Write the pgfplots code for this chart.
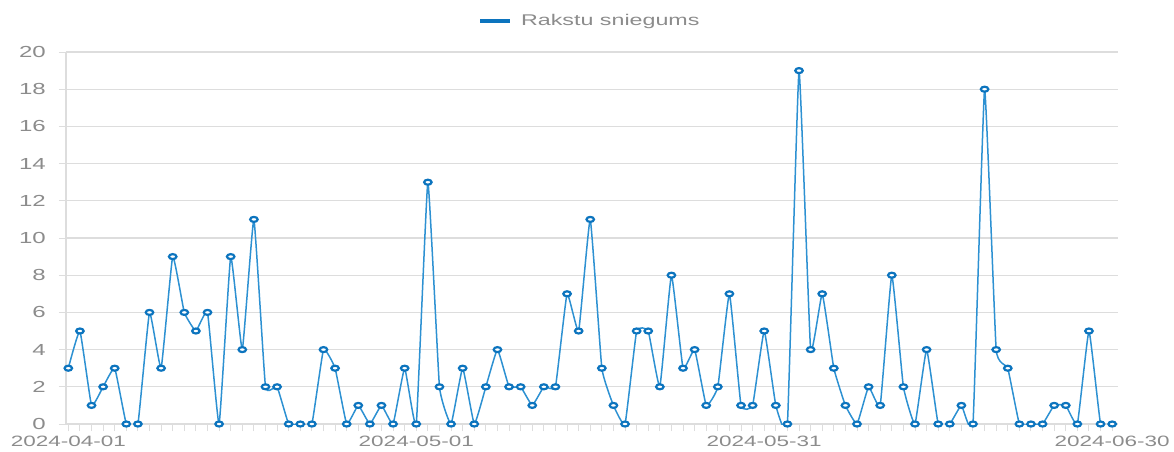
\documentclass[border=0pt]{standalone}
\usepackage{fontspec}
\setmainfont{Liberation Sans}[FakeStretch=1.5]
\usepackage{pgfplots}
\pgfplotsset{compat=1.18}
\definecolor{lineblue}{RGB}{45,145,210}
\definecolor{markblue}{RGB}{12,116,190}
\definecolor{txtgray}{RGB}{140,140,140}
\definecolor{gridgray}{RGB}{221,221,221}
\begin{document}
\begin{tikzpicture}
\path[use as bounding box] (-66pt,-27pt) rectangle (1108pt,424pt);
\begin{axis}[
  at={(0pt,0pt)}, anchor=south west,
  scale only axis, width=1052pt, height=372pt,
  xmin=-0.2, xmax=90.5, ymin=0, ymax=20,
  axis x line=bottom, axis y line=left,
  axis line style={gridgray, line width=1.2pt, -},
  xtick={0,30,60,90},
  xticklabels={2024-04-01,2024-05-01,2024-05-31,2024-06-30},
  minor xtick={1,...,89},
  ytick={0,2,...,20},
  tick align=outside,
  major tick length=7pt, minor tick length=7pt,
  tick style={gridgray, line width=1pt},
  ymajorgrids,
  grid style={gridgray, line width=1.2pt},
  /pgf/number format/assume math mode=true,
  yticklabel style={font=\fontsize{16}{16}\selectfont, text=txtgray, inner sep=0pt, xshift=-13pt},
  xticklabel style={font=\fontsize{15}{15}\selectfont, text=txtgray, inner sep=0pt, yshift=-5pt},
  clip mode=individual,
  legend style={draw=none, fill=none, inner sep=0pt, at={(axis description cs:0.3916,1)}, anchor=west, yshift=31pt, font=\fontsize{15.5}{15.5}\selectfont, text=txtgray, nodes={inner sep=0pt}},
  legend image code/.code={\draw[markblue, line width=4pt] (0pt,0pt) -- (30pt,0pt);},
]
\addplot[lineblue, line width=1.5pt, smooth, tension=0.2, mark=*, mark size=2.5pt,
  mark options={draw=markblue, fill=white, line width=2.2pt, xscale=1.5}] coordinates {
(0,3)(1,5)(2,1)(3,2)(4,3)(5,0)(6,0)(7,6)(8,3)(9,9)
(10,6)(11,5)(12,6)(13,0)(14,9)(15,4)(16,11)(17,2)(18,2)(19,0)
(20,0)(21,0)(22,4)(23,3)(24,0)(25,1)(26,0)(27,1)(28,0)(29,3)
(30,0)(31,13)(32,2)(33,0)(34,3)(35,0)(36,2)(37,4)(38,2)(39,2)
(40,1)(41,2)(42,2)(43,7)(44,5)(45,11)(46,3)(47,1)(48,0)(49,5)
(50,5)(51,2)(52,8)(53,3)(54,4)(55,1)(56,2)(57,7)(58,1)(59,1)
(60,5)(61,1)(62,0)(63,19)(64,4)(65,7)(66,3)(67,1)(68,0)(69,2)
(70,1)(71,8)(72,2)(73,0)(74,4)(75,0)(76,0)(77,1)(78,0)(79,18)
(80,4)(81,3)(82,0)(83,0)(84,0)(85,1)(86,1)(87,0)(88,5)(89,0)
(90,0)};
\addlegendentry{\hspace*{9pt}Rakstu sniegums}
\end{axis}
\end{tikzpicture}
\end{document}
